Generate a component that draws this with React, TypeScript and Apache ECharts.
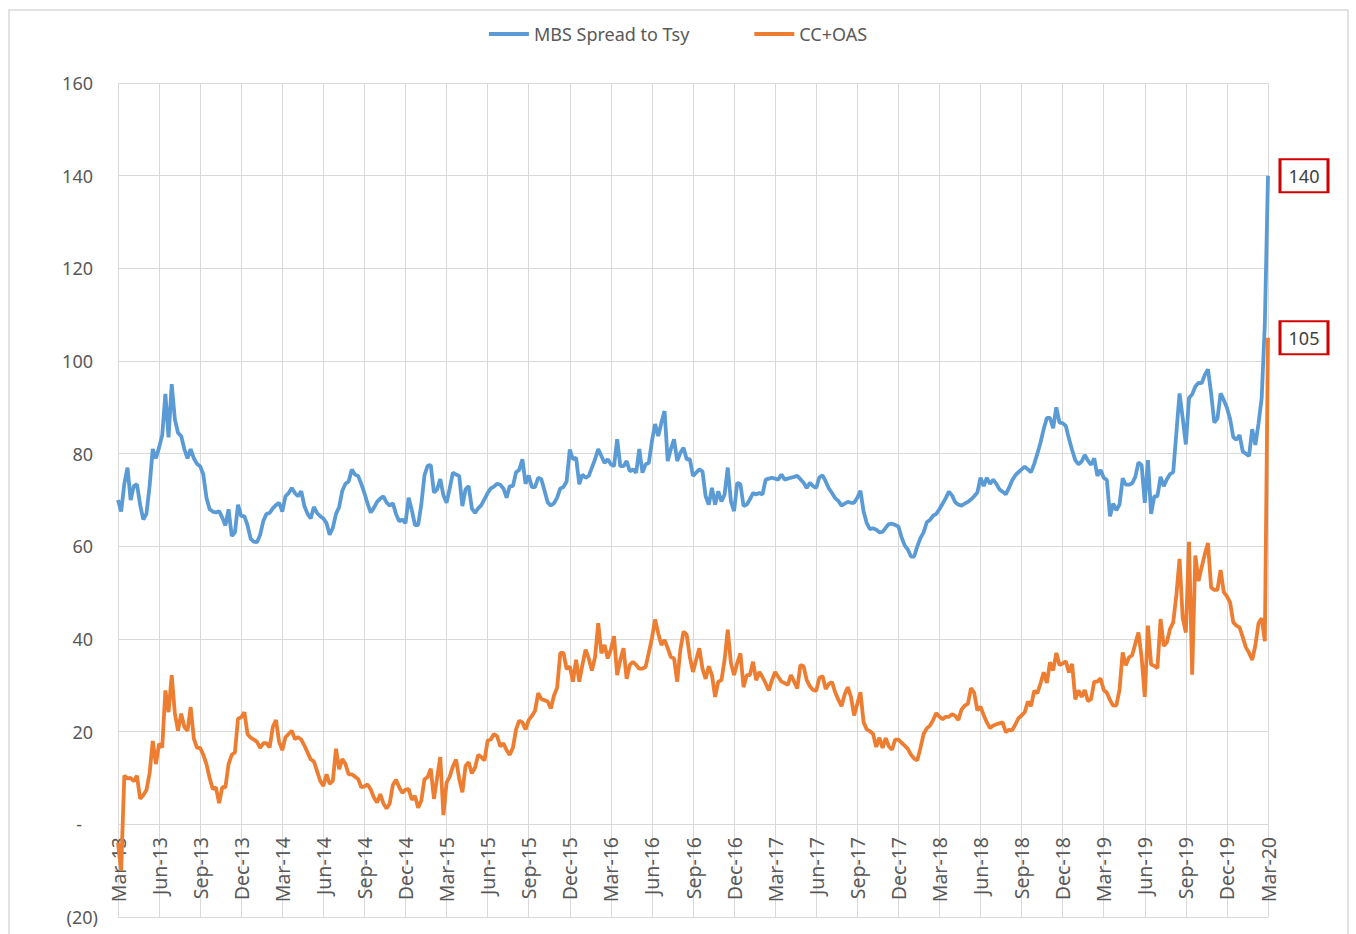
import React, { useEffect, useRef } from "react";
import * as echarts from "echarts";

// Quarterly tick labels (x axis, months since Mar-13 in steps of 3)
const quarterLabels = [
  "Mar-13", "Jun-13", "Sep-13", "Dec-13",
  "Mar-14", "Jun-14", "Sep-14", "Dec-14",
  "Mar-15", "Jun-15", "Sep-15", "Dec-15",
  "Mar-16", "Jun-16", "Sep-16", "Dec-16",
  "Mar-17", "Jun-17", "Sep-17", "Dec-17",
  "Mar-18", "Jun-18", "Sep-18", "Dec-18",
  "Mar-19", "Jun-19", "Sep-19", "Dec-19",
  "Mar-20",
];

const seriesNames = ["MBS Spread to Tsy", "CC+OAS"];

// Weekly observations, 13 per quarter, starting Mar-13, last point Mar-20
const mbsSpread = [
  70, 67.5, 73.5, 77, 70, 73, 73.4, 69, 65.8, 67, 73, 81, 79,
  81.3, 84, 92.9, 83.5, 95, 87.4, 84.5, 83.8, 81, 79, 81, 79, 77.8,
  77.3, 75.5, 70.5, 68, 67.5, 67.3, 67.6, 66.2, 64.5, 68, 62.2, 63, 69,
  66.5, 66.5, 64.5, 61.6, 61, 60.9, 62.5, 65.5, 67, 67.2, 68.2, 68.9, 69.4,
  67.5, 70.8, 71.5, 72.6, 71.5, 70.8, 71.9, 68.7, 67, 66, 68.5, 67.2, 66.5,
  66, 65, 62.5, 64, 67, 68.5, 72, 73.5, 74, 76.6, 75.5, 75.2, 73.5,
  71.5, 69.2, 67.3, 68.3, 69.6, 70.3, 70.8, 69.5, 68.8, 69.3, 67, 65.4, 65.8,
  65, 70.5, 67.8, 64.6, 64.6, 69, 75.3, 77.4, 77.5, 71.6, 72.3, 74.5, 71,
  69.4, 72.5, 75.9, 75.5, 75.2, 68.7, 72.3, 73, 68.2, 67.2, 68.2, 68.9, 70.2,
  71.5, 72.5, 72.9, 73.5, 73.3, 72.5, 70.5, 73, 73, 76, 76.5, 78.8, 73.5,
  75.3, 72.8, 72.8, 74.8, 74.5, 72, 69.5, 68.8, 69.3, 70.5, 72.5, 72.8, 74,
  80.9, 78.8, 79.1, 73.4, 75.5, 74.8, 75.2, 77, 78.8, 81, 79.5, 78, 78.8,
  77.7, 77.3, 83.1, 77.3, 77.3, 78.4, 76.2, 76.6, 75.9, 81, 75.9, 77.7, 78,
  82.7, 86.4, 83.8, 86.7, 89.2, 78.4, 81, 83.1, 78.4, 80.2, 81.3, 78.8, 78.8,
  75.2, 75.9, 76.6, 76.2, 70.8, 69, 72.6, 69, 71.9, 69.7, 71.2, 77, 69.7,
  67.6, 73.7, 73.4, 68.7, 69, 70.1, 71.5, 71.2, 71.5, 71.2, 74.4, 74.6, 74.8,
  74.6, 74.4, 75.5, 74.4, 74.6, 74.8, 75, 75.2, 74.5, 73.7, 72.6, 73.7, 73,
  72.6, 74.9, 75.3, 74, 72.5, 71.5, 70.4, 69.8, 68.8, 69.2, 69.6, 69.4, 69.4,
  70.5, 72, 67.5, 65, 63.7, 63.9, 63.6, 63, 63.1, 64, 64.8, 64.9, 64.6,
  64.3, 62, 60.2, 59.3, 57.8, 57.8, 60, 61.8, 63, 65.2, 65.7, 66.6, 67,
  68, 69.2, 70.4, 71.8, 71, 69.5, 69, 68.8, 69.2, 69.6, 70.1, 70.8, 71.6,
  74.8, 73, 74.8, 73.5, 74.4, 73.5, 72.3, 71.8, 71.2, 72.6, 74.2, 75.3, 76,
  76.6, 77.2, 76.6, 76, 77.8, 80, 82.4, 85.3, 87.7, 87.7, 85.5, 90, 86.7,
  86.6, 86, 83.2, 80.8, 78.6, 77.7, 78.3, 79.7, 78.5, 77.6, 79, 75.2, 76.5,
  74.8, 74.3, 66.5, 69.2, 67.8, 69, 74.7, 73.3, 73.3, 73.6, 75, 78.1, 77.5,
  69.4, 78.6, 67, 70.8, 70.8, 75, 73, 74.5, 75.6, 76, 84.5, 93, 87.7,
  82, 92, 92.8, 94.5, 95.3, 95.2, 97, 98.2, 93, 86.7, 87.6, 93, 91.6,
  89.9, 87.5, 83.6, 83, 84, 80.5, 80, 79.5, 85.3, 81.9, 86.5, 92, 108,
  140,
];

const ccOas = [
  -4, -10, 10.5, 9.9, 10, 9.3, 10.5, 5.5, 6.3, 7.4, 11, 18, 13,
  17.4, 16.6, 28.9, 24.2, 32.2, 23.9, 20.2, 23.9, 21, 20.2, 25.3, 18.5, 16.5,
  16.5, 15, 13, 10, 7.6, 8, 4.6, 8, 8, 13, 15, 15.5, 22.8,
  23.1, 24.2, 19.5, 18.7, 18.3, 17.8, 16.5, 17.5, 17.5, 16.6, 21, 22.5, 17.8,
  16, 18.8, 19.5, 20.2, 18.4, 18.8, 18.3, 17, 15.5, 14, 13.6, 11.5, 9.4,
  8.3, 10.8, 8.7, 9.4, 16.3, 11.9, 14.1, 13, 10.8, 10.8, 10.3, 9.8, 8,
  8.2, 8.6, 7.5, 5.8, 4.7, 6.5, 4.5, 3.4, 4.5, 8.5, 9.6, 8, 6.8,
  7.5, 7.6, 5.3, 6.1, 3.6, 5.1, 9.7, 10.2, 12, 5.5, 10, 14.5, 2,
  9, 10.3, 12.5, 14, 9.8, 6.9, 12.6, 13.4, 11, 12.2, 15, 14.5, 13.8,
  18.1, 18.3, 19.5, 19, 16.8, 17.5, 16, 15, 16.5, 20.5, 22.4, 22, 20.5,
  22.5, 23.4, 24.5, 28.3, 27, 26.8, 26.5, 25, 27.8, 29.5, 37, 37, 33.5,
  34.1, 30.8, 35.5, 30.8, 34.4, 37.7, 35.8, 33.2, 36.1, 43.4, 36.9, 38.7, 35.8,
  37.7, 40.6, 32.2, 35.5, 38, 31.4, 34.4, 35.1, 34.4, 33.6, 33.6, 34, 37,
  40.2, 44.2, 41.2, 38.7, 39.8, 38, 36.1, 35.8, 30.8, 37.7, 41.6, 40.9, 36.1,
  32.9, 35.5, 38, 33.6, 31.4, 34.1, 32.2, 27.5, 30.8, 31.1, 35.5, 42, 34.8,
  32.2, 34.8, 36.9, 29.6, 32.2, 32.2, 35.1, 31.1, 32.9, 31.8, 30.4, 28.9, 31.1,
  32.9, 31.8, 30.8, 30.5, 30.1, 32.2, 30.8, 29.3, 34.4, 34.1, 31.1, 29.8, 29,
  28.8, 31.6, 32, 29.2, 30.3, 30.7, 28.5, 26.9, 25.5, 28, 29.6, 27.5, 23.5,
  26, 28.5, 22, 20.5, 20.1, 19.5, 16.7, 18.7, 16.5, 18.6, 16.8, 16.1, 18.3,
  18.3, 17.6, 17, 16.3, 15, 14.2, 13.8, 16.5, 19.5, 20.7, 21.3, 22.5, 24,
  23.2, 22.7, 23.2, 23.2, 23.8, 23.4, 22.5, 24.8, 25.6, 26, 29.4, 28.4, 24.6,
  25.4, 23.6, 22, 20.8, 21.3, 21.6, 21.8, 22, 19.9, 20.4, 20.3, 21.5, 22.9,
  23.5, 24.2, 26.5, 25.5, 28.8, 28.3, 30.4, 32.8, 30.5, 35, 33.2, 37, 34.4,
  34.7, 35.2, 32.8, 34.6, 27, 28.9, 27.5, 29, 26.6, 27, 30.8, 30.8, 31.5,
  29, 28.4, 26.8, 25.6, 25.7, 29, 37.1, 34.3, 36, 36.5, 39, 41.4, 36,
  27.5, 42.9, 34.5, 34.2, 33.7, 44.3, 38.5, 39.3, 42.2, 43.6, 49.5, 57.3, 44.5,
  41.4, 61, 32.3, 58, 52.5, 55.5, 58.3, 60.7, 51.1, 50.6, 50.6, 54.9, 50.1,
  49.2, 47.9, 43.6, 42.9, 42.5, 40.4, 38.2, 37, 35.5, 38.6, 43.4, 44.5, 39.5,
  105,
];

const WEEKS_PER_QUARTER = 13;
const MONTHS_PER_QUARTER = 3;

const toPoints = (vals: number[]) =>
  vals.map((v, i) => [(i * MONTHS_PER_QUARTER) / WEEKS_PER_QUARTER, v]);

export default function App() {
  const ref = useRef<HTMLDivElement>(null);

  useEffect(() => {
    if (!ref.current) return;
    const chart = echarts.init(ref.current, null, { renderer: "svg" });
    const font = "'Noto Sans', 'Open Sans', sans-serif";
    const grey = "#595959";
    const gridColor = "#d9d9d9";
    const colors = ["#5B9BD5", "#ED7D31"];

    const markBox = {
      symbol: "rect",
      symbolSize: [48, 33],
      symbolOffset: [36, 0],
      itemStyle: { color: "#ffffff", borderColor: "#d40000", borderWidth: 2.5 },
      label: {
        show: true,
        position: "inside",
        color: "#404040",
        fontSize: 18,
        fontFamily: font,
        formatter: (p: any) => String(Math.round(p.value)),
      },
      data: [{ type: "max", valueDim: "y" }],
    };

    chart.setOption({
      animation: false,
      backgroundColor: "#ffffff",
      textStyle: { fontFamily: font },
      graphic: [
        {
          type: "rect",
          silent: true,
          shape: { x: 9, y: 10, width: 1339, height: 960 },
          style: { fill: "none", stroke: gridColor, lineWidth: 1.5 },
        },
      ],
      legend: {
        top: 20,
        left: "center",
        icon: "rect",
        itemWidth: 40,
        itemHeight: 4,
        itemGap: 65,
        data: seriesNames,
        textStyle: { color: grey, fontSize: 18, fontFamily: font },
      },
      grid: {
        left: 118,
        right: 88,
        top: 83,
        bottom: 17,
        containLabel: false,
        outerBoundsMode: "none",
      },
      xAxis: {
        type: "value",
        position: "bottom",
        min: 0,
        max: 84,
        interval: 3,
        axisLine: { show: true, onZero: false, lineStyle: { color: gridColor, width: 1 } },
        axisTick: { show: false },
        splitLine: { show: true, lineStyle: { color: gridColor, width: 1 } },
        axisLabel: {
          rotate: 90,
          margin: -80,
          color: grey,
          fontSize: 19.5,
          fontFamily: font,
          formatter: (v: number) => quarterLabels[Math.round(v / MONTHS_PER_QUARTER)] ?? "",
        },
      },
      yAxis: {
        type: "value",
        min: -20,
        max: 160,
        interval: 20,
        axisLine: { show: false },
        axisTick: { show: false },
        splitLine: { show: true, lineStyle: { color: gridColor, width: 1 } },
        axisLabel: {
          margin: 20,
          color: grey,
          fontSize: 18,
          fontFamily: font,
          formatter: (v: number) =>
            v < 0 ? `{neg|(${-v})}` : v === 0 ? "{dash|-}" : `{pos|${v}}`,
          rich: {
            neg: { color: grey, fontSize: 18, fontFamily: font },
            pos: { color: grey, fontSize: 18, fontFamily: font, padding: [0, 5, 0, 0] },
            dash: { color: grey, fontSize: 18, fontFamily: font, padding: [0, 16, 0, 0] },
          },
        },
      },
      series: [
        {
          name: seriesNames[0],
          type: "line",
          data: toPoints(mbsSpread),
          showSymbol: false,
          color: colors[0],
          lineStyle: { color: colors[0], width: 3.8 },
          markPoint: markBox,
        },
        {
          name: seriesNames[1],
          type: "line",
          data: toPoints(ccOas),
          showSymbol: false,
          color: colors[1],
          lineStyle: { color: colors[1], width: 3.8 },
          markPoint: markBox,
        },
      ],
    });

    return () => chart.dispose();
  }, []);

  return (
    <div
      ref={ref}
      style={{ position: "absolute", left: 0, top: 0, width: 1356, height: 934 }}
    />
  );
}
